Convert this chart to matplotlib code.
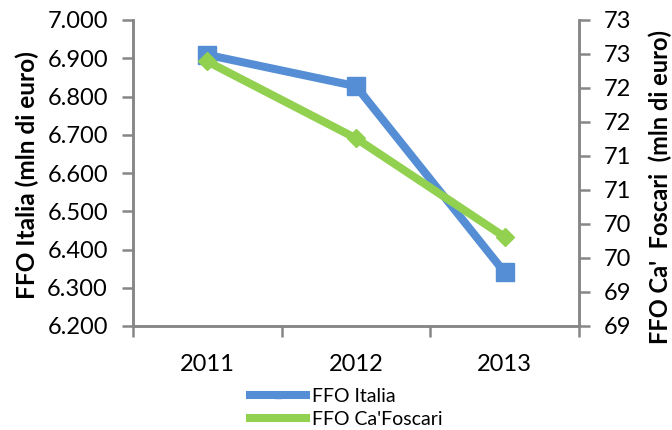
import numpy as np
import matplotlib
matplotlib.use("Agg")
import matplotlib.pyplot as plt
import matplotlib.ticker as ticker
from matplotlib.lines import Line2D

# ── Data ──────────────────────────────────────────────────────────────────────
years = ["2011", "2012", "2013"]
ffo_italia = [6.909, 6.827, 6.340]        # mln di euro (left axis)
ffo_cafoscari = [72.39, 71.26, 69.81]     # mln di euro (right axis)

# ── Style ─────────────────────────────────────────────────────────────────────
COLOR_IT = "#558ED5"
COLOR_CF = "#92D050"
COLOR_AX = "#868686"
TICK_FS = 17
plt.rcParams["font.family"] = ["Lato", "DejaVu Sans"]

fig = plt.figure(figsize=(6.72, 4.30), dpi=100)
ax = fig.add_axes([133 / 672, 1 - 326 / 430, 446 / 672, 306 / 430])
ax2 = ax.twinx()

x = np.arange(len(years))
ax.plot(x, ffo_italia, color=COLOR_IT, linewidth=5.8, marker="s",
        markersize=13, zorder=3)
ax2.plot(x, ffo_cafoscari, color=COLOR_CF, linewidth=5.8, marker="D",
         markersize=9, zorder=3)

# ── Axes ──────────────────────────────────────────────────────────────────────
ax.set_xlim(-0.5, 2.5)
ax.set_ylim(6.2, 7.0)
ax.yaxis.set_major_locator(ticker.MultipleLocator(0.1))
ax.yaxis.set_major_formatter(ticker.FuncFormatter(lambda v, _: f"{v:.3f}"))

ax2.set_ylim(68.5, 73.0)
ax2.yaxis.set_major_locator(ticker.MultipleLocator(0.5))
# Excel-like "0" format: half rounds up
ax2.yaxis.set_major_formatter(
    ticker.FuncFormatter(lambda v, _: f"{int(np.floor(v + 0.5))}"))

ax.set_xticks(x)
ax.set_xticklabels(years)
ax.set_xticks([-0.5, 0.5, 1.5, 2.5], minor=True)
ax.tick_params(axis="x", which="major", length=0, pad=20, labelsize=TICK_FS)
ax.tick_params(axis="x", which="minor", length=8, width=1.8, color=COLOR_AX)
ax.tick_params(axis="y", length=8, width=1.8, color=COLOR_AX, pad=10,
               labelsize=TICK_FS)
ax2.tick_params(axis="y", length=8, width=1.8, color=COLOR_AX, pad=10,
                labelsize=TICK_FS)

for a in (ax, ax2):
    a.spines["top"].set_visible(False)
    for s in ("left", "right", "bottom"):
        a.spines[s].set_color(COLOR_AX)
        a.spines[s].set_linewidth(1.8)

fig.text(27 / 672, 1 - 175 / 430, "FFO Italia (mln di euro)", rotation=90,
         ha="center", va="center", fontsize=17.6, fontweight="bold")
fig.text(660 / 672, 1 - 187 / 430, "FFO Ca'  Foscari  (mln di euro)",
         rotation=90, ha="center", va="center", fontsize=17,
         fontweight="bold")

# ── Legend ────────────────────────────────────────────────────────────────────
handles = [
    Line2D([], [], color=COLOR_IT, linewidth=5.8, marker="s", markersize=5),
    Line2D([], [], color=COLOR_CF, linewidth=5.8, marker="D", markersize=3),
]
fig.legend(handles, ["FFO Italia", "FFO Ca'Foscari"], loc="center left",
           bbox_to_anchor=(250 / 672, 1 - 408 / 430), frameon=False,
           fontsize=14, handlelength=2.9, handletextpad=0.3,
           labelspacing=0.3, borderpad=0, borderaxespad=0)

fig.savefig("out.png", dpi=100)
